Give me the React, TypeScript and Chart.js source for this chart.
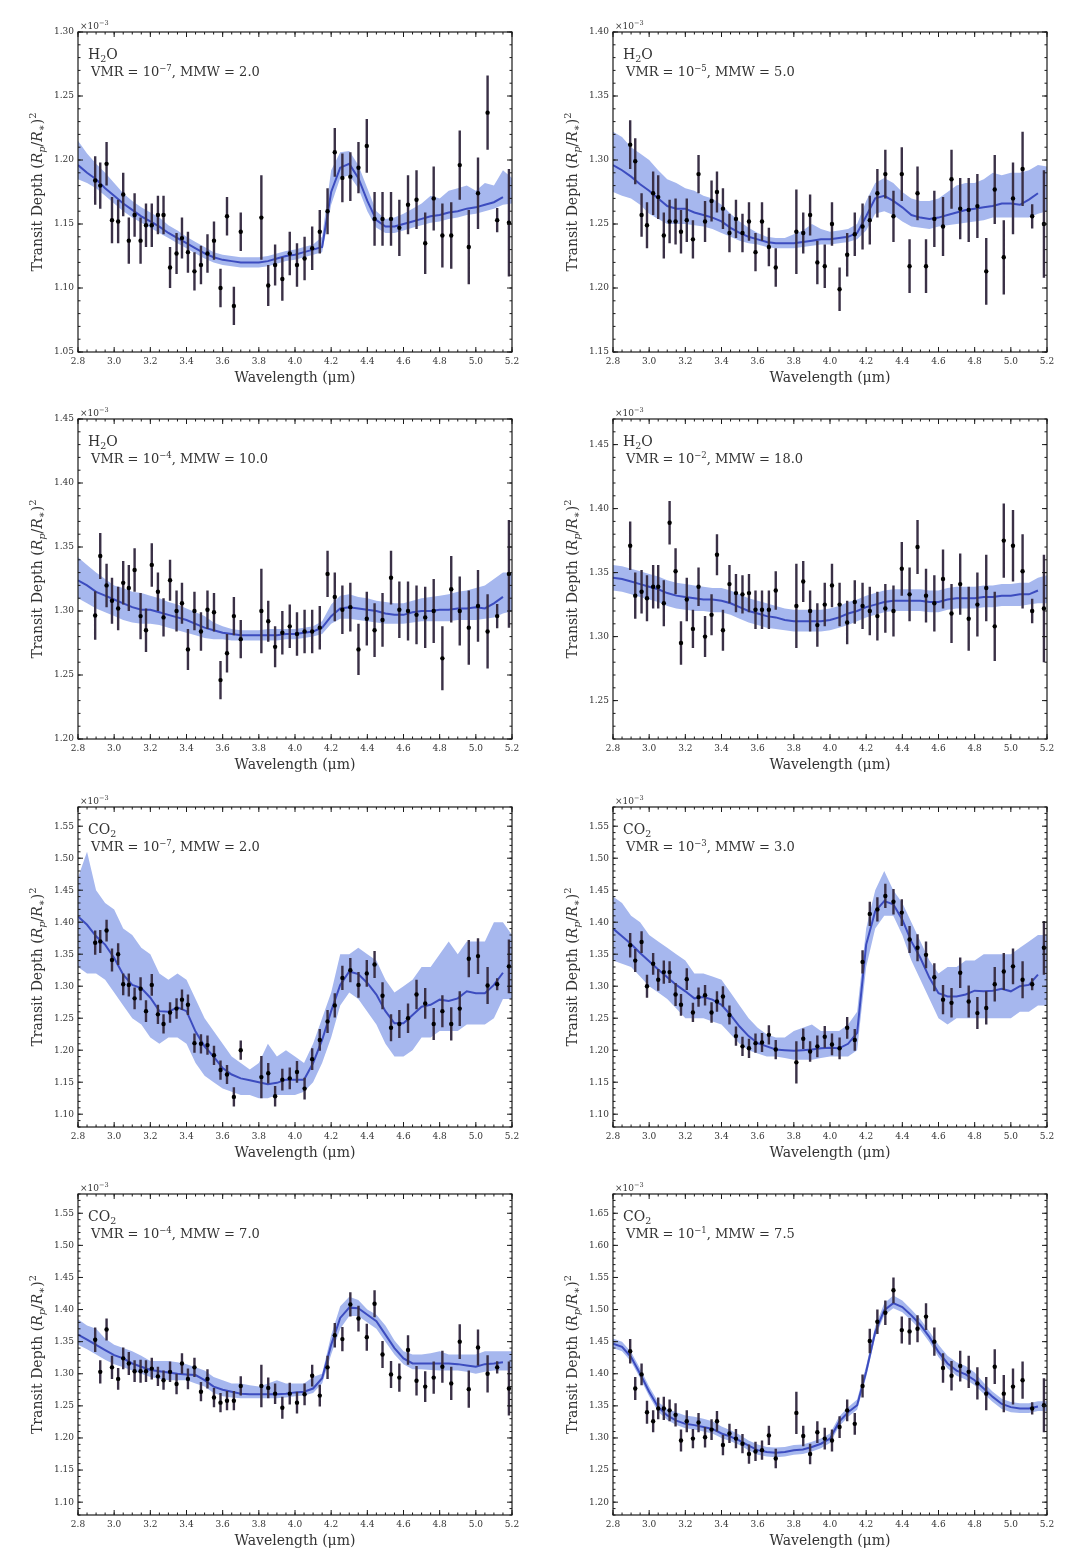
import React, { useEffect, useRef } from "react";
import { Chart, registerables } from "chart.js";

Chart.register(...registerables);

// ---------------- shared axes / instrument data ----------------
const wavelengths = [
  2.895, 2.923, 2.958, 2.988, 3.022, 3.05, 3.081, 3.113, 3.146, 3.176,
  3.208, 3.242, 3.273, 3.309, 3.345, 3.375, 3.408, 3.444, 3.48, 3.516,
  3.552, 3.588, 3.624, 3.662, 3.7,
  3.814, 3.852, 3.89, 3.93, 3.971, 4.011, 4.053, 4.095, 4.137, 4.18,
  4.22, 4.262, 4.306, 4.351, 4.397, 4.44, 4.484, 4.531, 4.577, 4.625,
  4.672, 4.72, 4.767, 4.815, 4.864, 4.911, 4.961, 5.012, 5.065, 5.118, 5.183,
];
const errorBars = [
  0.019, 0.018, 0.017, 0.018, 0.017, 0.017, 0.018, 0.017, 0.018, 0.017,
  0.017, 0.015, 0.015, 0.016, 0.016, 0.016, 0.016, 0.015, 0.015, 0.015,
  0.015, 0.015, 0.015, 0.015, 0.015,
  0.033, 0.016, 0.016, 0.017, 0.017, 0.017, 0.017, 0.017, 0.017, 0.018,
  0.019, 0.019, 0.019, 0.02, 0.021, 0.021, 0.021, 0.021, 0.022, 0.023,
  0.023, 0.024, 0.025, 0.025, 0.026, 0.027, 0.029, 0.028, 0.029, 0.0095, 0.042,
];
const modelGrid = [
  2.8, 2.85, 2.9, 2.95, 3.0, 3.05, 3.1, 3.15, 3.2,
  3.25, 3.3, 3.35, 3.4, 3.45, 3.5, 3.55, 3.6, 3.65,
  3.7, 3.75, 3.8, 3.85, 3.9, 3.95, 4.0, 4.05, 4.1,
  4.15, 4.2, 4.25, 4.3, 4.35, 4.4, 4.45, 4.5, 4.55,
  4.6, 4.65, 4.7, 4.75, 4.8, 4.85, 4.9, 4.95, 5.0,
  5.05, 5.1, 5.15, 5.2,
];
const xTicks = [2.8, 3.0, 3.2, 3.4, 3.6, 3.8, 4.0, 4.2, 4.4, 4.6, 4.8, 5.0, 5.2];

// ---------------- H2O, VMR 1e-7, MMW 2.0 ----------------
const h2oA_depth = [
  1.184, 1.18, 1.197, 1.153, 1.152, 1.173, 1.137, 1.157, 1.137, 1.149,
  1.149, 1.157, 1.157, 1.116, 1.127, 1.139, 1.128, 1.113, 1.118, 1.127,
  1.137, 1.1, 1.156, 1.086, 1.144,
  1.155, 1.102, 1.118, 1.107, 1.127, 1.118, 1.123, 1.131, 1.144, 1.16,
  1.206, 1.186, 1.187, 1.194, 1.211, 1.154, 1.154, 1.154, 1.147, 1.165,
  1.169, 1.135, 1.17, 1.141, 1.141, 1.196, 1.132, 1.174, 1.237, 1.153, 1.151,
];
const h2oA_model = [
  1.196, 1.19, 1.185, 1.178, 1.172, 1.166, 1.161, 1.156, 1.152,
  1.148, 1.143, 1.139, 1.135, 1.131, 1.127, 1.124, 1.122, 1.121,
  1.12, 1.12, 1.12, 1.121, 1.123, 1.125, 1.126, 1.128, 1.13,
  1.132, 1.175, 1.194, 1.197, 1.186, 1.168, 1.153, 1.148, 1.148,
  1.15, 1.152, 1.154, 1.156, 1.157, 1.159, 1.16, 1.162, 1.163,
  1.165, 1.167, 1.171, null,
];
const h2oA_lo = [
  1.185, 1.182, 1.178, 1.172, 1.166, 1.16, 1.155, 1.151, 1.147,
  1.143, 1.139, 1.135, 1.131, 1.127, 1.123, 1.12, 1.118, 1.117,
  1.116, 1.116, 1.116, 1.117, 1.119, 1.121, 1.122, 1.124, 1.126,
  1.128, 1.165, 1.186, 1.188, 1.178, 1.16, 1.147, 1.143, 1.143,
  1.145, 1.147, 1.149, 1.151, 1.152, 1.154, 1.155, 1.157, 1.158,
  1.16, 1.162, 1.165, 1.166,
];
const h2oA_hi = [
  1.215, 1.205, 1.197, 1.19, 1.182, 1.174, 1.168, 1.163, 1.159,
  1.155, 1.149, 1.145, 1.14, 1.136, 1.132, 1.128, 1.126, 1.125,
  1.124, 1.124, 1.124, 1.125, 1.127, 1.129, 1.13, 1.132, 1.134,
  1.14, 1.192, 1.206, 1.207, 1.196, 1.178, 1.16, 1.154, 1.155,
  1.158, 1.162, 1.166, 1.172, 1.17, 1.176, 1.178, 1.18, 1.176,
  1.182, 1.18, 1.192, 1.186,
];
const h2oA_yTicks = [1.05, 1.1, 1.15, 1.2, 1.25, 1.3];

// ---------------- H2O, VMR 1e-5, MMW 5.0 ----------------
const h2oB_depth = [
  1.312, 1.299, 1.257, 1.249, 1.274, 1.271, 1.241, 1.252, 1.252, 1.244,
  1.253, 1.238, 1.289, 1.252, 1.268, 1.275, 1.262, 1.243, 1.254, 1.243,
  1.252, 1.228, 1.252, 1.232, 1.216,
  1.244, 1.243, 1.257, 1.22, 1.217, 1.25, 1.199, 1.226, 1.242, 1.248,
  1.253, 1.274, 1.289, 1.256, 1.289, 1.217, 1.274, 1.217, 1.254, 1.248,
  1.285, 1.262, 1.261, 1.264, 1.213, 1.277, 1.224, 1.27, 1.293, 1.256, 1.25,
];
const h2oB_model = [
  1.296, 1.292, 1.287, 1.281, 1.276, 1.27, 1.264, 1.262, 1.262,
  1.259, 1.257, 1.255, 1.252, 1.247, 1.243, 1.24, 1.238, 1.236,
  1.235, 1.235, 1.235, 1.236, 1.237, 1.238, 1.238, 1.239, 1.24,
  1.243, 1.256, 1.27, 1.272, 1.268, 1.263, 1.257, 1.255, 1.254,
  1.255, 1.257, 1.259, 1.261, 1.262, 1.263, 1.264, 1.266, 1.266,
  1.265, 1.269, 1.274, null,
];
const h2oB_lo = [
  1.275, 1.272, 1.27, 1.265, 1.258, 1.254, 1.25, 1.25, 1.25,
  1.249, 1.248, 1.246, 1.243, 1.24, 1.237, 1.235, 1.234, 1.232,
  1.231, 1.231, 1.231, 1.232, 1.233, 1.234, 1.234, 1.235, 1.236,
  1.238, 1.245, 1.258, 1.26, 1.257, 1.252, 1.248, 1.247, 1.246,
  1.248, 1.249, 1.25, 1.251, 1.252, 1.253, 1.255, 1.255, 1.255,
  1.255, 1.255, 1.258, 1.26,
];
const h2oB_hi = [
  1.322, 1.318, 1.31, 1.305, 1.3, 1.292, 1.285, 1.282, 1.278,
  1.276, 1.272, 1.27, 1.265, 1.258, 1.252, 1.247, 1.243, 1.24,
  1.239, 1.239, 1.242, 1.245, 1.25, 1.246, 1.244, 1.245, 1.246,
  1.25, 1.268, 1.282, 1.286, 1.282, 1.275, 1.27, 1.268, 1.268,
  1.27, 1.275, 1.28, 1.282, 1.282, 1.285, 1.29, 1.288, 1.29,
  1.29, 1.292, 1.296, 1.295,
];
const h2oB_yTicks = [1.15, 1.2, 1.25, 1.3, 1.35, 1.4];

// ---------------- H2O, VMR 1e-4, MMW 10.0 ----------------
const h2oC_depth = [
  1.2965, 1.343, 1.32, 1.308, 1.302, 1.322, 1.318, 1.332, 1.296, 1.285,
  1.336, 1.315, 1.295, 1.324, 1.3, 1.306, 1.27, 1.3, 1.284, 1.301,
  1.299, 1.246, 1.267, 1.296, 1.278,
  1.3, 1.292, 1.272, 1.283, 1.288, 1.282, 1.284, 1.284, 1.287, 1.329,
  1.311, 1.301, 1.303, 1.27, 1.294, 1.285, 1.293, 1.326, 1.301, 1.3,
  1.297, 1.295, 1.3, 1.263, 1.317, 1.3, 1.287, 1.304, 1.284, 1.296, 1.329,
];
const h2oC_model = [
  1.324, 1.32, 1.315, 1.312, 1.309, 1.306, 1.303, 1.301, 1.301,
  1.299, 1.297, 1.295, 1.293, 1.29, 1.287, 1.285, 1.283, 1.282,
  1.281, 1.281, 1.281, 1.281, 1.281, 1.282, 1.282, 1.283, 1.284,
  1.287, 1.296, 1.302, 1.303, 1.302, 1.301, 1.3, 1.298, 1.297,
  1.297, 1.299, 1.3, 1.3, 1.301, 1.301, 1.302, 1.302, 1.303,
  1.302, 1.306, 1.311, null,
];
const h2oC_lo = [
  1.31, 1.306, 1.302, 1.299, 1.296, 1.293, 1.291, 1.29, 1.29,
  1.289, 1.287, 1.285, 1.283, 1.281, 1.279, 1.278, 1.278, 1.277,
  1.277, 1.277, 1.277, 1.277, 1.277, 1.278, 1.278, 1.279, 1.28,
  1.282, 1.29, 1.294, 1.294, 1.293, 1.292, 1.291, 1.29, 1.29,
  1.29, 1.291, 1.292, 1.292, 1.292, 1.292, 1.293, 1.293, 1.293,
  1.294, 1.295, 1.298, 1.3,
];
const h2oC_hi = [
  1.342, 1.336, 1.33, 1.325, 1.32, 1.318, 1.315, 1.314, 1.312,
  1.31, 1.307, 1.305, 1.302, 1.299, 1.296, 1.291, 1.288, 1.286,
  1.285, 1.285, 1.285, 1.286, 1.286, 1.286, 1.286, 1.287, 1.288,
  1.292, 1.305, 1.312, 1.313, 1.311, 1.31, 1.308, 1.307, 1.306,
  1.306, 1.308, 1.31, 1.311, 1.312, 1.313, 1.315, 1.316, 1.318,
  1.32, 1.325, 1.33, 1.33,
];
const h2oC_yTicks = [1.2, 1.25, 1.3, 1.35, 1.4, 1.45];

// ---------------- H2O, VMR 1e-2, MMW 18.0 ----------------
const h2oD_depth = [
  1.371, 1.332, 1.335, 1.33, 1.339, 1.339, 1.326, 1.389, 1.351, 1.295,
  1.329, 1.306, 1.339, 1.3, 1.317, 1.364, 1.305, 1.341, 1.334, 1.333,
  1.334, 1.321, 1.321, 1.321, 1.336,
  1.324, 1.343, 1.32, 1.309, 1.325, 1.34, 1.325, 1.311, 1.327, 1.324,
  1.32, 1.316, 1.322, 1.32, 1.353, 1.333, 1.37, 1.332, 1.326, 1.345,
  1.318, 1.341, 1.314, 1.325, 1.338, 1.308, 1.375, 1.371, 1.351, 1.32, 1.322,
];
const h2oD_model = [
  1.346, 1.345, 1.343, 1.341, 1.339, 1.337, 1.334, 1.332, 1.331,
  1.33, 1.329, 1.329, 1.328, 1.326, 1.323, 1.32, 1.318, 1.316,
  1.315, 1.313, 1.312, 1.312, 1.312, 1.312, 1.313, 1.315, 1.318,
  1.32, 1.323, 1.325, 1.327, 1.328, 1.328, 1.328, 1.328, 1.327,
  1.327, 1.329, 1.33, 1.33, 1.33, 1.331, 1.331, 1.332, 1.332,
  1.333, 1.333, 1.336, null,
];
const h2oD_lo = [
  1.336, 1.335, 1.333, 1.331, 1.329, 1.327, 1.324, 1.322, 1.321,
  1.32, 1.32, 1.319, 1.319, 1.317, 1.314, 1.311, 1.309, 1.307,
  1.306, 1.305, 1.304, 1.304, 1.304, 1.304, 1.305, 1.307, 1.309,
  1.312, 1.315, 1.317, 1.319, 1.32, 1.32, 1.32, 1.32, 1.319,
  1.319, 1.321, 1.322, 1.322, 1.322, 1.323, 1.323, 1.324, 1.324,
  1.324, 1.325, 1.326, 1.326,
];
const h2oD_hi = [
  1.356, 1.355, 1.353, 1.351, 1.349, 1.347, 1.344, 1.342, 1.341,
  1.34, 1.339, 1.338, 1.338, 1.336, 1.333, 1.33, 1.328, 1.326,
  1.324, 1.322, 1.321, 1.321, 1.321, 1.321, 1.322, 1.324, 1.327,
  1.329, 1.332, 1.334, 1.336, 1.337, 1.337, 1.337, 1.337, 1.336,
  1.336, 1.338, 1.339, 1.339, 1.339, 1.34, 1.34, 1.341, 1.341,
  1.342, 1.342, 1.346, 1.348,
];
const h2oD_yTicks = [1.25, 1.3, 1.35, 1.4, 1.45];

// ---------------- CO2, VMR 1e-7, MMW 2.0 ----------------
const co2A_depth = [
  1.368, 1.37, 1.387, 1.341, 1.35, 1.303, 1.302, 1.281, 1.296, 1.261,
  1.302, 1.256, 1.241, 1.259, 1.265, 1.279, 1.271, 1.211, 1.21, 1.208,
  1.192, 1.169, 1.162, 1.127, 1.2,
  1.158, 1.164, 1.128, 1.154, 1.156, 1.166, 1.14, 1.186, 1.216, 1.245,
  1.27, 1.313, 1.325, 1.302, 1.32, 1.334, 1.285, 1.235, 1.241, 1.25,
  1.287, 1.273, 1.241, 1.261, 1.241, 1.265, 1.343, 1.347, 1.301, 1.303, 1.331,
];
const co2A_model = [
  1.409, 1.396, 1.378, 1.365, 1.344, 1.318, 1.302, 1.297, 1.282,
  1.261, 1.26, 1.267, 1.261, 1.229, 1.206, 1.19, 1.172, 1.162,
  1.156, 1.153, 1.15, 1.147, 1.149, 1.154, 1.154, 1.154, 1.18,
  1.216, 1.261, 1.302, 1.323, 1.319, 1.305, 1.287, 1.261, 1.242,
  1.242, 1.255, 1.268, 1.271, 1.279, 1.277, 1.281, 1.292, 1.289,
  1.289, 1.302, 1.321, null,
];
const co2A_lo = [
  1.33, 1.32, 1.32, 1.31, 1.29, 1.27, 1.25, 1.24, 1.22,
  1.21, 1.22, 1.22, 1.21, 1.18, 1.16, 1.15, 1.14, 1.135,
  1.13, 1.13, 1.125, 1.125, 1.13, 1.13, 1.13, 1.135, 1.15,
  1.18, 1.22, 1.27, 1.29, 1.28, 1.26, 1.24, 1.21, 1.19,
  1.19, 1.2, 1.22, 1.22, 1.23, 1.23, 1.23, 1.24, 1.24,
  1.24, 1.25, 1.28, 1.28,
];
const co2A_hi = [
  1.47, 1.51, 1.45, 1.43, 1.42, 1.39, 1.38, 1.36, 1.35,
  1.32, 1.31, 1.32, 1.31, 1.28, 1.25, 1.23, 1.21, 1.19,
  1.18, 1.17, 1.18, 1.21, 1.19, 1.2, 1.19, 1.18, 1.21,
  1.25, 1.29, 1.35, 1.35, 1.36, 1.35, 1.34, 1.31, 1.29,
  1.3, 1.31, 1.33, 1.33, 1.35, 1.37, 1.35, 1.37, 1.37,
  1.37, 1.4, 1.4, 1.38,
];
const co2A_yTicks = [1.1, 1.15, 1.2, 1.25, 1.3, 1.35, 1.4, 1.45, 1.5, 1.55];

// ---------------- CO2, VMR 1e-3, MMW 3.0 ----------------
const co2B_depth = [
  1.364, 1.34, 1.369, 1.3, 1.335, 1.31, 1.322, 1.322, 1.287, 1.271,
  1.311, 1.259, 1.283, 1.286, 1.259, 1.276, 1.284, 1.255, 1.222, 1.206,
  1.203, 1.211, 1.212, 1.224, 1.201,
  1.181, 1.218, 1.198, 1.206, 1.221, 1.209, 1.203, 1.235, 1.216, 1.338,
  1.413, 1.42, 1.441, 1.432, 1.415, 1.373, 1.36, 1.349, 1.314, 1.279,
  1.274, 1.321, 1.276, 1.258, 1.266, 1.303, 1.323, 1.331, 1.31, 1.303, 1.36,
];
const co2B_model = [
  1.39, 1.378, 1.366, 1.352, 1.339, 1.326, 1.314, 1.302, 1.292,
  1.281, 1.283, 1.279, 1.271, 1.255, 1.237, 1.222, 1.211, 1.206,
  1.201, 1.2, 1.199, 1.2, 1.201, 1.203, 1.204, 1.203, 1.21,
  1.227, 1.365, 1.417, 1.433, 1.428, 1.404, 1.37, 1.344, 1.313,
  1.289, 1.284, 1.284, 1.287, 1.293, 1.292, 1.293, 1.296, 1.292,
  1.3, 1.302, 1.318, null,
];
const co2B_lo = [
  1.34, 1.335, 1.33, 1.315, 1.3, 1.29, 1.28, 1.265, 1.25,
  1.25, 1.25, 1.245, 1.24, 1.225, 1.21, 1.2, 1.195, 1.19,
  1.19, 1.188, 1.185, 1.185, 1.185, 1.188, 1.19, 1.19, 1.19,
  1.2, 1.33, 1.39, 1.41, 1.41, 1.38, 1.34, 1.31, 1.28,
  1.25, 1.24, 1.25, 1.25, 1.25, 1.25, 1.25, 1.25, 1.25,
  1.26, 1.26, 1.27, 1.27,
];
const co2B_hi = [
  1.44, 1.43, 1.41, 1.4, 1.38, 1.37, 1.36, 1.35, 1.34,
  1.32, 1.32, 1.315, 1.31, 1.29, 1.27, 1.25, 1.235, 1.225,
  1.22, 1.22, 1.23, 1.235, 1.24, 1.23, 1.23, 1.23, 1.24,
  1.26, 1.39, 1.45, 1.48, 1.45, 1.43, 1.4, 1.37, 1.34,
  1.32, 1.33, 1.33, 1.34, 1.34, 1.35, 1.35, 1.35, 1.35,
  1.36, 1.37, 1.38, 1.38,
];
const co2B_yTicks = [1.1, 1.15, 1.2, 1.25, 1.3, 1.35, 1.4, 1.45, 1.5, 1.55];

// ---------------- CO2, VMR 1e-4, MMW 7.0 ----------------
const co2C_depth = [
  1.353, 1.303, 1.369, 1.31, 1.292, 1.324, 1.316, 1.304, 1.304, 1.304,
  1.308, 1.296, 1.29, 1.303, 1.284, 1.316, 1.292, 1.31, 1.272, 1.292,
  1.263, 1.255, 1.258, 1.258, 1.281,
  1.281, 1.278, 1.269, 1.247, 1.269, 1.255, 1.268, 1.297, 1.266, 1.31,
  1.36, 1.354, 1.408, 1.386, 1.357, 1.409, 1.33, 1.299, 1.294, 1.337,
  1.289, 1.28, 1.294, 1.311, 1.285, 1.35, 1.276, 1.341, 1.3, 1.31, 1.277,
];
const co2C_model = [
  1.361, 1.353, 1.345, 1.337, 1.329, 1.324, 1.316, 1.311, 1.306,
  1.304, 1.302, 1.3, 1.299, 1.298, 1.29, 1.28, 1.275, 1.272,
  1.269, 1.268, 1.268, 1.268, 1.268, 1.269, 1.271, 1.272, 1.277,
  1.293, 1.345, 1.387, 1.403, 1.402, 1.392, 1.382, 1.361, 1.34,
  1.324, 1.316, 1.316, 1.316, 1.316, 1.316, 1.315, 1.313, 1.311,
  1.315, 1.316, 1.318, null,
];
const co2C_lo = [
  1.345, 1.338, 1.33, 1.322, 1.315, 1.31, 1.305, 1.3, 1.295,
  1.292, 1.29, 1.29, 1.29, 1.285, 1.28, 1.27, 1.265, 1.263,
  1.262, 1.262, 1.262, 1.262, 1.262, 1.263, 1.265, 1.266, 1.27,
  1.285, 1.33, 1.37, 1.39, 1.39, 1.38, 1.37, 1.35, 1.33,
  1.315, 1.307, 1.307, 1.306, 1.305, 1.305, 1.305, 1.303, 1.3,
  1.303, 1.305, 1.305, 1.305,
];
const co2C_hi = [
  1.385, 1.375, 1.37, 1.355, 1.345, 1.34, 1.335, 1.328, 1.32,
  1.32, 1.32, 1.318, 1.315, 1.31, 1.305, 1.295, 1.29, 1.285,
  1.285, 1.282, 1.28, 1.285, 1.29, 1.285, 1.285, 1.285, 1.295,
  1.3, 1.36, 1.405, 1.42, 1.415, 1.4, 1.392, 1.375, 1.352,
  1.335, 1.33, 1.33, 1.332, 1.335, 1.33, 1.33, 1.33, 1.33,
  1.335, 1.335, 1.335, 1.335,
];
const co2C_yTicks = [1.1, 1.15, 1.2, 1.25, 1.3, 1.35, 1.4, 1.45, 1.5, 1.55];

// ---------------- CO2, VMR 1e-1, MMW 7.5 ----------------
const co2D_depth = [
  1.435, 1.377, 1.399, 1.34, 1.326, 1.346, 1.346, 1.343, 1.336, 1.296,
  1.326, 1.299, 1.324, 1.301, 1.313, 1.326, 1.289, 1.307, 1.299, 1.291,
  1.275, 1.279, 1.281, 1.304, 1.268,
  1.339, 1.303, 1.275, 1.309, 1.299, 1.296, 1.317, 1.343, 1.322, 1.381,
  1.451, 1.481, 1.495, 1.53, 1.468, 1.466, 1.47, 1.489, 1.45, 1.409,
  1.397, 1.412, 1.403, 1.385, 1.369, 1.411, 1.369, 1.38, 1.39, 1.346, 1.351,
];
const co2D_model = [
  1.447, 1.442, 1.426, 1.4, 1.372, 1.348, 1.335, 1.327, 1.322,
  1.32, 1.317, 1.314, 1.307, 1.302, 1.296, 1.288, 1.281, 1.278,
  1.277, 1.278, 1.281, 1.282, 1.286, 1.291, 1.299, 1.325, 1.34,
  1.351, 1.403, 1.465, 1.499, 1.51, 1.504, 1.491, 1.476, 1.457,
  1.434, 1.416, 1.405, 1.399, 1.39, 1.377, 1.364, 1.353, 1.348,
  1.346, 1.346, 1.349, null,
];
const co2D_lo = [
  1.44, 1.435, 1.419, 1.393, 1.365, 1.341, 1.328, 1.32, 1.315,
  1.313, 1.31, 1.307, 1.3, 1.295, 1.289, 1.281, 1.274, 1.271,
  1.27, 1.271, 1.274, 1.275, 1.279, 1.284, 1.292, 1.318, 1.333,
  1.344, 1.395, 1.457, 1.491, 1.502, 1.496, 1.483, 1.468, 1.449,
  1.426, 1.408, 1.397, 1.391, 1.382, 1.369, 1.356, 1.345, 1.34,
  1.339, 1.339, 1.342, 1.342,
];
const co2D_hi = [
  1.455, 1.45, 1.434, 1.408, 1.38, 1.356, 1.345, 1.34, 1.335,
  1.333, 1.33, 1.326, 1.318, 1.312, 1.305, 1.296, 1.29, 1.286,
  1.285, 1.286, 1.289, 1.29, 1.294, 1.299, 1.307, 1.333, 1.348,
  1.36, 1.412, 1.474, 1.51, 1.522, 1.514, 1.5, 1.485, 1.466,
  1.445, 1.428, 1.418, 1.412, 1.402, 1.386, 1.372, 1.361, 1.356,
  1.354, 1.354, 1.357, 1.357,
];
const co2D_yTicks = [1.2, 1.25, 1.3, 1.35, 1.4, 1.45, 1.5, 1.55, 1.6, 1.65];

// ---------------- panel descriptors ----------------
type PanelSpec = {
  species: "H2O" | "CO2";
  vmrExp: string;
  mmw: string;
  yMin: number;
  yMax: number;
  yTicks: number[];
  depth: number[];
  model: (number | null)[];
  lo: number[];
  hi: number[];
};

const panels: PanelSpec[] = [
  { species: "H2O", vmrExp: "−7", mmw: "2.0", yMin: 1.05, yMax: 1.3, yTicks: h2oA_yTicks, depth: h2oA_depth, model: h2oA_model, lo: h2oA_lo, hi: h2oA_hi },
  { species: "H2O", vmrExp: "−5", mmw: "5.0", yMin: 1.15, yMax: 1.4, yTicks: h2oB_yTicks, depth: h2oB_depth, model: h2oB_model, lo: h2oB_lo, hi: h2oB_hi },
  { species: "H2O", vmrExp: "−4", mmw: "10.0", yMin: 1.2, yMax: 1.45, yTicks: h2oC_yTicks, depth: h2oC_depth, model: h2oC_model, lo: h2oC_lo, hi: h2oC_hi },
  { species: "H2O", vmrExp: "−2", mmw: "18.0", yMin: 1.22, yMax: 1.47, yTicks: h2oD_yTicks, depth: h2oD_depth, model: h2oD_model, lo: h2oD_lo, hi: h2oD_hi },
  { species: "CO2", vmrExp: "−7", mmw: "2.0", yMin: 1.08, yMax: 1.58, yTicks: co2A_yTicks, depth: co2A_depth, model: co2A_model, lo: co2A_lo, hi: co2A_hi },
  { species: "CO2", vmrExp: "−3", mmw: "3.0", yMin: 1.08, yMax: 1.58, yTicks: co2B_yTicks, depth: co2B_depth, model: co2B_model, lo: co2B_lo, hi: co2B_hi },
  { species: "CO2", vmrExp: "−4", mmw: "7.0", yMin: 1.08, yMax: 1.58, yTicks: co2C_yTicks, depth: co2C_depth, model: co2C_model, lo: co2C_lo, hi: co2C_hi },
  { species: "CO2", vmrExp: "−1", mmw: "7.5", yMin: 1.18, yMax: 1.68, yTicks: co2D_yTicks, depth: co2D_depth, model: co2D_model, lo: co2D_lo, hi: co2D_hi },
];

// ---------------- layout & style ----------------
const colLayout = [
  { left: 0, width: 540, padR: 28 },
  { left: 535, width: 545, padR: 33 },
];
const rowLayout = [
  { top: 0, plotH: 320 },
  { top: 387, plotH: 320 },
  { top: 775, plotH: 320 },
  { top: 1162, plotH: 321 },
];
const PAD_TOP = 32;
const X_AXIS_H = 40;
const Y_AXIS_W = 78;

const FONT = '"DejaVu Serif", "Liberation Serif", serif';
const TXT = "#333";
const BAND = "#a6b7ee";
const LINE = "#3c4cbf";
const ERR = "#3a3046";

type Run = { t: string; size: number; dy?: number; italic?: boolean };
const fontOf = (r: Run) => `${r.italic ? "italic " : ""}${r.size}px ${FONT}`;
function runsWidth(ctx: CanvasRenderingContext2D, runs: Run[]) {
  let w = 0;
  for (const r of runs) {
    ctx.font = fontOf(r);
    w += ctx.measureText(r.t).width;
  }
  return w;
}
function drawRuns(ctx: CanvasRenderingContext2D, runs: Run[], x: number, y: number) {
  let cx = x;
  for (const r of runs) {
    ctx.font = fontOf(r);
    ctx.fillText(r.t, cx, y + (r.dy || 0));
    cx += ctx.measureText(r.t).width;
  }
}

function makeDecor(spec: PanelSpec) {
  return {
    id: "decor",
    afterDraw(chart: any) {
      const { ctx, chartArea: a } = chart;
      const xs = chart.scales.x;
      const ys = chart.scales.y;
      ctx.save();
      ctx.strokeStyle = "#1a1a1a";
      ctx.lineWidth = 1.2;
      ctx.strokeRect(a.left, a.top, a.right - a.left, a.bottom - a.top);
      ctx.lineWidth = 1;
      const seg = (x1: number, y1: number, x2: number, y2: number) => {
        ctx.beginPath();
        ctx.moveTo(x1, y1);
        ctx.lineTo(x2, y2);
        ctx.stroke();
      };
      // x ticks (major + minor), inward, bottom and top
      for (const v of xTicks) {
        const p = xs.getPixelForValue(v);
        seg(p, a.bottom, p, a.bottom - 5);
        seg(p, a.top, p, a.top + 5);
      }
      for (let k = 0; k <= 48; k++) {
        const p = xs.getPixelForValue(2.8 + k * 0.05);
        seg(p, a.bottom, p, a.bottom - 2.5);
        seg(p, a.top, p, a.top + 2.5);
      }
      // y ticks
      for (const v of spec.yTicks) {
        const p = ys.getPixelForValue(v);
        seg(a.left, p, a.left + 5, p);
        seg(a.right, p, a.right - 5, p);
      }
      const k0 = Math.ceil(spec.yMin * 100 - 1e-6);
      const k1 = Math.floor(spec.yMax * 100 + 1e-6);
      for (let k = k0; k <= k1; k++) {
        const p = ys.getPixelForValue(k / 100);
        seg(a.left, p, a.left + 2.5, p);
        seg(a.right, p, a.right - 2.5, p);
      }

      ctx.fillStyle = TXT;
      ctx.textAlign = "left";
      ctx.textBaseline = "alphabetic";
      // offset text
      drawRuns(ctx, [{ t: "×10", size: 9 }, { t: "−3", size: 6.5, dy: -4 }], a.left + 2, a.top - 3);
      // species
      const sp: Run[] =
        spec.species === "H2O"
          ? [{ t: "H", size: 14 }, { t: "2", size: 9.5, dy: 3 }, { t: "O", size: 14 }]
          : [{ t: "CO", size: 14 }, { t: "2", size: 9.5, dy: 3 }];
      drawRuns(ctx, sp, a.left + 10, a.top + 27);
      drawRuns(
        ctx,
        [
          { t: "VMR = 10", size: 13 },
          { t: spec.vmrExp, size: 8.5, dy: -5 },
          { t: `, MMW = ${spec.mmw}`, size: 13 },
        ],
        a.left + 13,
        a.top + 44
      );
      // y-axis title
      const yt: Run[] = [
        { t: "Transit Depth (", size: 14 },
        { t: "R", size: 14, italic: true },
        { t: "p", size: 10, italic: true, dy: 3 },
        { t: "/", size: 14 },
        { t: "R", size: 14, italic: true },
        { t: "∗", size: 10, dy: 3 },
        { t: ")", size: 14 },
        { t: "2", size: 10, dy: -6 },
      ];
      const w = runsWidth(ctx, yt);
      ctx.translate(a.left - 41, (a.top + a.bottom) / 2);
      ctx.rotate(-Math.PI / 2);
      drawRuns(ctx, yt, -w / 2, 5);
      ctx.restore();
    },
  };
}

function Panel({ spec, col, row }: { spec: PanelSpec; col: number; row: number }) {
  const ref = useRef<HTMLCanvasElement>(null);
  const c = colLayout[col];
  const r = rowLayout[row];
  const height = PAD_TOP + r.plotH + X_AXIS_H;

  useEffect(() => {
    const canvas = ref.current;
    if (!canvas) return;
    const errSegments: { x: number; y: number | null }[] = [];
    wavelengths.forEach((x, i) => {
      errSegments.push({ x, y: spec.depth[i] - errorBars[i] });
      errSegments.push({ x, y: spec.depth[i] + errorBars[i] });
      errSegments.push({ x, y: null });
    });
    const chart = new Chart(canvas, {
      type: "line",
      data: {
        datasets: [
          {
            label: "band-lo",
            data: modelGrid.map((x, i) => ({ x, y: spec.lo[i] })),
            borderColor: "rgba(0,0,0,0)",
            borderWidth: 0,
            pointRadius: 0,
            fill: false,
            order: 10,
          },
          {
            label: "band-hi",
            data: modelGrid.map((x, i) => ({ x, y: spec.hi[i] })),
            borderColor: "rgba(0,0,0,0)",
            borderWidth: 0,
            pointRadius: 0,
            backgroundColor: BAND,
            fill: "-1",
            order: 9,
          },
          {
            label: "model",
            data: modelGrid.map((x, i) => ({ x, y: spec.model[i] })),
            borderColor: LINE,
            borderWidth: 2,
            pointRadius: 0,
            fill: false,
            order: 3,
          },
          {
            label: "errors",
            data: errSegments as any,
            borderColor: ERR,
            borderWidth: 2.4,
            pointRadius: 0,
            fill: false,
            spanGaps: false,
            order: 2,
          },
          {
            label: "data",
            data: wavelengths.map((x, i) => ({ x, y: spec.depth[i] })),
            showLine: false,
            pointRadius: 2.2,
            pointBackgroundColor: "#000",
            pointBorderWidth: 0,
            order: 1,
          },
        ],
      },
      options: {
        responsive: false,
        animation: false,
        devicePixelRatio: 1,
        events: [],
        layout: { padding: { top: PAD_TOP, right: c.padR, left: 0, bottom: 0 } },
        plugins: { legend: { display: false }, tooltip: { enabled: false } },
        scales: {
          x: {
            type: "linear",
            min: 2.8,
            max: 5.2,
            afterBuildTicks: (s: any) => {
              s.ticks = xTicks.map((v) => ({ value: v }));
            },
            afterFit: (s: any) => {
              s.height = X_AXIS_H;
            },
            ticks: {
              callback: (v: any) => Number(v).toFixed(1),
              font: { family: FONT, size: 9 },
              color: TXT,
              padding: 4,
              maxRotation: 0,
              autoSkip: false,
            },
            grid: { display: false, drawTicks: false },
            border: { display: false },
            title: {
              display: true,
              text: "Wavelength (μm)",
              font: { family: FONT, size: 14 },
              color: TXT,
              padding: { top: 0, bottom: 5 },
            },
          },
          y: {
            type: "linear",
            min: spec.yMin,
            max: spec.yMax,
            afterBuildTicks: (s: any) => {
              s.ticks = spec.yTicks.map((v) => ({ value: v }));
            },
            afterFit: (s: any) => {
              s.width = Y_AXIS_W;
            },
            ticks: {
              callback: (v: any) => Number(v).toFixed(2),
              font: { family: FONT, size: 9 },
              color: TXT,
              padding: 4,
              autoSkip: false,
            },
            grid: { display: false, drawTicks: false },
            border: { display: false },
          },
        },
      } as any,
      plugins: [makeDecor(spec)],
    });
    return () => chart.destroy();
  }, [spec, col, row]);

  return (
    <canvas
      ref={ref}
      width={c.width}
      height={height}
      style={{ position: "absolute", left: c.left, top: r.top, width: c.width, height }}
    />
  );
}

export default function App() {
  return (
    <div style={{ position: "absolute", left: 0, top: 0, width: 1080, height: 1557, background: "#fff" }}>
      {panels.map((p, i) => (
        <Panel key={i} spec={p} col={i % 2} row={Math.floor(i / 2)} />
      ))}
    </div>
  );
}
